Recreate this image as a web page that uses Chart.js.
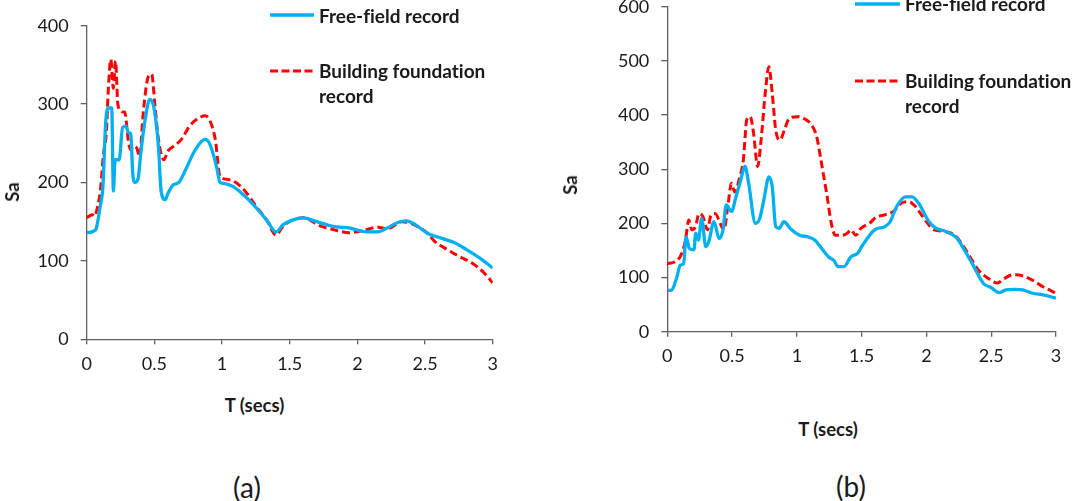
<!DOCTYPE html>
<html><head><meta charset="utf-8">
<script src="https://cdn.jsdelivr.net/npm/chart.js@4/dist/chart.umd.min.js"></script>
<style>
html,body{margin:0;padding:0;background:#fff;width:1073px;height:501px;overflow:hidden;position:relative;font-family:Lato,"Open Sans",sans-serif;color:#1a1a1a;font-variant-ligatures:none}
canvas{position:absolute}
.t{position:absolute;white-space:nowrap;transform:translate(-50%,-50%);}
.b{font-weight:bold;font-size:18.5px;}
.cap{font-size:28px;}
.rot{transform:translate(-50%,-50%) rotate(-90deg);}
.leg{position:absolute;font-weight:bold;font-size:19px;line-height:25.3px;white-space:nowrap;}
svg{position:absolute;overflow:visible}
</style></head><body>
<canvas id="ca" width="520" height="380" style="left:0;top:0"></canvas>
<canvas id="cb" width="493" height="392" style="left:580px;top:-20px"></canvas>

<svg style="left:270px;top:15px" width="44" height="1"><line x1="0" y1="0" x2="44" y2="0" stroke="#00B0F0" stroke-width="3.3"/></svg>
<div class="leg" style="left:319px;top:2.5px">Free-field record</div>
<svg style="left:270px;top:70.7px" width="44" height="1"><line x1="0" y1="0" x2="44" y2="0" stroke="#FF0000" stroke-width="3" stroke-dasharray="8 3.5"/></svg>
<div class="leg" style="left:319px;top:58px">Building foundation<br>record</div>

<svg style="left:855px;top:4px" width="45" height="1"><line x1="0" y1="0" x2="45" y2="0" stroke="#00B0F0" stroke-width="3.3"/></svg>
<div class="leg" style="left:905px;top:-8.6px">Free-field record</div>
<svg style="left:855px;top:80.7px" width="45" height="1"><line x1="0" y1="0" x2="45" y2="0" stroke="#FF0000" stroke-width="3" stroke-dasharray="8 3.5"/></svg>
<div class="leg" style="left:905px;top:68px">Building foundation<br>record</div>

<div class="t b rot" style="left:11.5px;top:192px">Sa</div>
<div class="t b rot" style="left:570px;top:185px">Sa</div>
<div class="t b" style="left:254.5px;top:405px">T (secs)</div>
<div class="t b" style="left:828px;top:429px">T (secs)</div>
<div class="t cap" style="left:247px;top:487px">(a)</div>
<div class="t cap" style="left:851px;top:486px">(b)</div>

<script>
// ---- Data (a) ----
const tFreeA = [0,0.04,0.06,0.07,0.1,0.12,0.14,0.16,0.185,0.197,0.21,0.24,0.265,0.29,0.31,0.325,0.34,0.355,0.38,0.4,0.44,0.465,0.495,0.53,0.55,0.58,0.6,0.64,0.68,0.73,0.79,0.84,0.875,0.91,0.96,0.985,1.01,1.08,1.16,1.23,1.33,1.4,1.45,1.52,1.6,1.7,1.82,1.94,2.07,2.15,2.22,2.3,2.36,2.43,2.52,2.62,2.72,2.81,2.91,3];
const saFreeA = [136,137,139,141,170,195,276,295,295,189,229,229,270,272,263,263,212,200,205,238,289,306,297,246,189,178,186,197,200,216,238,251,255,249,220,200,199,195,184,172,152,137,146,152,155,150,144,142,137,137,142,149,151,146,135,129,123,114,103,91];
const tBldgA = [0,0.04,0.06,0.07,0.1,0.125,0.145,0.16,0.178,0.197,0.213,0.23,0.25,0.265,0.28,0.31,0.325,0.345,0.37,0.39,0.42,0.455,0.48,0.505,0.53,0.57,0.6,0.64,0.7,0.76,0.825,0.875,0.91,0.95,0.985,1.04,1.11,1.18,1.25,1.33,1.4,1.45,1.52,1.6,1.72,1.82,1.94,2.07,2.15,2.22,2.33,2.42,2.52,2.57,2.65,2.75,2.85,2.94,3];
const saBldgA = [155,159,157,162,188,238,263,319,357,320,355,300,292,290,290,250,242,246,244,233,293,335,338,297,255,229,240,246,255,272,282,285,279,255,208,204,199,187,170,152,133,144,152,155,145,140,136,140,143,141,150,146,135,125,116,106,97,84,72];
// ---- Data (b) ----
const tFreeB = [0,0.034,0.074,0.1,0.126,0.145,0.17,0.205,0.22,0.24,0.265,0.297,0.32,0.36,0.4,0.43,0.455,0.495,0.53,0.56,0.6,0.626,0.68,0.713,0.745,0.784,0.81,0.837,0.863,0.9,0.955,1.02,1.087,1.14,1.19,1.245,1.284,1.32,1.363,1.416,1.47,1.508,1.6,1.68,1.72,1.77,1.837,1.89,1.94,2.02,2.074,2.15,2.23,2.3,2.36,2.44,2.495,2.56,2.613,2.68,2.745,2.82,2.9,3];
const saFreeB = [76,77,101,123,126,175,154,151,182,169,209,157,166,203,172,188,234,222,249,274,305,277,200,209,243,286,268,194,191,203,189,178,175,169,154,138,132,120,120,138,145,160,188,194,203,231,249,249,237,203,191,185,174,148,123,89,82,72,77,78,77,71,68,62];
const tBldgB = [0,0.06,0.113,0.14,0.166,0.19,0.218,0.245,0.276,0.31,0.337,0.37,0.408,0.437,0.47,0.495,0.52,0.56,0.587,0.613,0.64,0.666,0.697,0.724,0.758,0.784,0.81,0.837,0.871,0.903,0.942,1.008,1.074,1.113,1.153,1.19,1.23,1.266,1.297,1.35,1.39,1.416,1.455,1.495,1.56,1.613,1.666,1.745,1.81,1.863,1.916,1.955,2.02,2.06,2.14,2.22,2.27,2.337,2.4,2.48,2.547,2.6,2.666,2.745,2.82,2.9,3];
const saBldgB = [126,129,145,169,206,188,194,218,212,188,215,218,200,188,237,274,258,286,317,391,397,366,305,354,446,489,440,372,354,372,394,397,391,382,360,311,255,200,178,178,182,188,178,191,200,212,215,222,238,240,231,218,197,188,185,178,163,138,114,98,90,98,105,103,95,83,71];
// ---- Axes ----
const xTicks = [0,0.5,1,1.5,2,2.5,3];
const yMaxA = 400, yMaxB = 600, yStep = 100;
const seriesNames = ['Free-field record','Building foundation record'];

const pts = (ts, vs) => ts.map((t, i) => ({x: t, y: vs[i]}));
const AX = '#5f5f5f', TXT = '#1a1a1a';
const FONT = {family: 'Lato, "Open Sans", sans-serif', size: 18};

function makeChart(id, tf, sf, tb, sb, ymax, yW, xH, pad) {
  return new Chart(document.getElementById(id), {
    type: 'line',
    data: {datasets: [
      {label: seriesNames[0], data: pts(tf, sf), borderColor: '#00B0F0', borderWidth: 3.3,
       pointRadius: 0, cubicInterpolationMode: 'monotone', fill: false},
      {label: seriesNames[1], data: pts(tb, sb), borderColor: '#FF0000', borderWidth: 3,
       borderDash: [8, 4], pointRadius: 0, cubicInterpolationMode: 'monotone', fill: false}
    ]},
    options: {
      responsive: false, animation: false, devicePixelRatio: 1,
      layout: {padding: pad},
      plugins: {legend: {display: false}, tooltip: {enabled: false}},
      scales: {
        x: {type: 'linear', min: 0, max: 3,
            afterBuildTicks: s => { s.ticks = xTicks.map(v => ({value: v})); },
            afterFit: s => { s.height = xH; },
            grid: {drawOnChartArea: false, drawTicks: true, tickLength: 5, color: AX, lineWidth: 1.3},
            border: {color: AX, width: 1.3},
            ticks: {callback: v => String(v), color: TXT, font: FONT, padding: 9, maxRotation: 0, autoSkip: false}},
        y: {min: 0, max: ymax,
            ticks: {stepSize: yStep, color: TXT, font: FONT, padding: 12},
            afterFit: s => { s.width = yW; },
            grid: {drawOnChartArea: false, drawTicks: true, tickLength: 6, color: AX, lineWidth: 1.3},
            border: {color: AX, width: 1.3}}
      }
    }
  });
}
makeChart('ca', tFreeA, saFreeA, tBldgA, saBldgA, yMaxA, 86.7, 40.7, {left: 0, right: 27.3, top: 25.7, bottom: 0});
makeChart('cb', tFreeB, saFreeB, tBldgB, saBldgB, yMaxB, 87.3, 40.3, {left: 0, right: 17, top: 26.7, bottom: 0});
</script>
</body></html>
